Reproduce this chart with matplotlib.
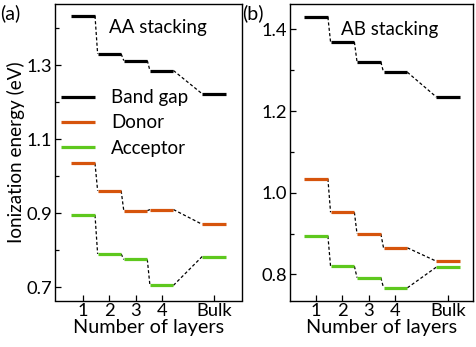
import matplotlib
matplotlib.use("Agg")
import matplotlib.pyplot as plt
from matplotlib.ticker import FixedLocator, FormatStrFormatter

plt.rcParams['font.family'] = ['Lato', 'DejaVu Sans']

layers = [1, 2, 3, 4, 6]
layer_labels = ['1', '2', '3', '4', 'Bulk']

aa_gap = [1.434, 1.331, 1.313, 1.286, 1.223]
aa_donor = [1.035, 0.961, 0.907, 0.910, 0.870]
aa_acceptor = [0.895, 0.790, 0.775, 0.705, 0.783]

ab_gap = [1.430, 1.369, 1.320, 1.295, 1.234]
ab_donor = [1.034, 0.952, 0.899, 0.865, 0.832]
ab_acceptor = [0.894, 0.820, 0.792, 0.767, 0.818]

aa_yticks = [0.7, 0.9, 1.1, 1.3]
aa_yminor = [0.8, 1.0, 1.2, 1.4]
ab_yticks = [0.8, 1.0, 1.2, 1.4]
ab_yminor = [0.9, 1.1, 1.3]

series_names = ['Band gap', 'Donor', 'Acceptor']
colors = ['#000000', '#d6540c', '#5ec81e']

W, H = 476, 347
fig = plt.figure(figsize=(W / 100, H / 100), dpi=100)

def add_ax(l, r, t, b):
    return fig.add_axes([l / W, 1 - b / H, (r - l) / W, (b - t) / H])

axa = add_ax(55, 241.7, 4, 300.5)
axb = add_ax(289.5, 473.3, 4, 300.5)

hw = 0.45

def draw_steps(ax, xs, ys, color, label=None):
    for i, (x, y) in enumerate(zip(xs, ys)):
        ax.plot([x - hw, x + hw], [y, y], color=color, lw=2.3, solid_capstyle='butt',
                label=label if i == 0 else None, zorder=3)
    for i in range(len(xs) - 1):
        ax.plot([xs[i] + hw, xs[i + 1] - hw], [ys[i], ys[i + 1]], color='black',
                lw=0.9, ls=(0, (2.5, 1.8)), zorder=2)

for ax, data, ylim, yt, ym, xlim in [
    (axa, [aa_gap, aa_donor, aa_acceptor], (0.664, 1.466), aa_yticks, aa_yminor, (-0.08, 7.06)),
    (axb, [ab_gap, ab_donor, ab_acceptor], (0.736, 1.462), ab_yticks, ab_yminor, (0.0, 6.94)),
]:
    for ys, c, n in zip(data, colors, series_names):
        draw_steps(ax, layers, ys, c, n)
    ax.set_xlim(*xlim)
    ax.set_ylim(*ylim)
    ax.set_xticks(layers)
    ax.set_xticklabels(layer_labels)
    ax.set_yticks(yt)
    ax.yaxis.set_minor_locator(FixedLocator(ym))
    ax.yaxis.set_major_formatter(FormatStrFormatter('%.1f'))
    ax.tick_params(axis='both', which='both', direction='in', labelsize=13.2,
                   width=0.9, pad=2)
    ax.tick_params(axis='both', which='major', length=4)
    ax.tick_params(axis='y', which='minor', length=3)
    ax.tick_params(axis='x', which='minor', length=0)
    for s in ax.spines.values():
        s.set_linewidth(1.0)
    ax.set_xlabel('Number of layers', fontsize=14.3, labelpad=0)

axa.set_ylabel('Ionization energy (eV)', fontsize=13.6, labelpad=1)

axa.text(0.29, 0.92, 'AA stacking', transform=axa.transAxes, fontsize=13.5,
         ha='left', va='center')
axb.text(0.28, 0.913, 'AB stacking', transform=axb.transAxes, fontsize=13.5,
         ha='left', va='center')

leg = axa.legend(loc='upper left', bbox_to_anchor=(0.03, 0.713), frameon=False,
                 fontsize=13.5, handlelength=1.85, handletextpad=0.85,
                 labelspacing=0.44, borderaxespad=0, borderpad=0)

fig.text(0 / W, 1 - 13 / H, '(a)', fontsize=14, ha='left', va='center')
fig.text(242 / W, 1 - 13 / H, '(b)', fontsize=14, ha='left', va='center')

fig.savefig('out.png', dpi=100)
